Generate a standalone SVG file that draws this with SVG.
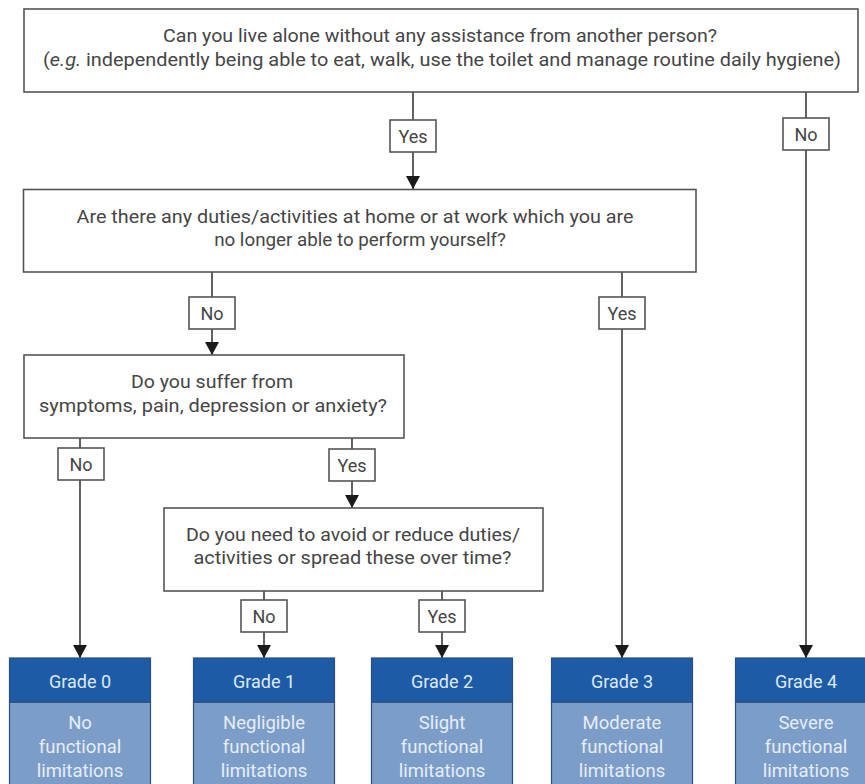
<svg xmlns="http://www.w3.org/2000/svg" width="865" height="784" viewBox="0 0 865 784">
<defs>
<marker id="arr" markerUnits="userSpaceOnUse" markerWidth="14" markerHeight="14" viewBox="0 0 13 14" refX="13" refY="7" orient="auto">
<path d="M0,0 L13,7 L0,14 Z" fill="#1a1a1a"/>
</marker>
<style>
.q{fill:#fff;stroke:#555;stroke-width:1.6}
.t{font-family:Roboto,"Liberation Sans",sans-serif;font-size:18.8px;fill:#454545;text-anchor:middle}
.l{font-family:Roboto,"Liberation Sans",sans-serif;font-size:18px;fill:#454545;text-anchor:middle}
.c{fill:none;stroke:#3a3a3a;stroke-width:1.6}
.lb{fill:#fff;stroke:#555;stroke-width:1.6}
.gh{fill:#1d5ba7;stroke:#2b4e7c;stroke-width:1.2}
.gb{fill:#7b9dc8;stroke:#2b4e7c;stroke-width:1.2}
.gt{font-family:Roboto,"Liberation Sans",sans-serif;font-size:18px;fill:#dfe9f6;text-anchor:middle}
.bt{font-family:Roboto,"Liberation Sans",sans-serif;font-size:18.5px;fill:#e6edf7;text-anchor:middle}
</style>
</defs>
<rect width="865" height="784" fill="#fff"/>

<g id="connectors">
<path class="c" d="M413,92 V189" marker-end="url(#arr)"/>
<path class="c" d="M806,92 V658" marker-end="url(#arr)"/>
<path class="c" d="M212,272 V355" marker-end="url(#arr)"/>
<path class="c" d="M622,272 V658" marker-end="url(#arr)"/>
<path class="c" d="M80,438 V658" marker-end="url(#arr)"/>
<path class="c" d="M352,438 V508" marker-end="url(#arr)"/>
<path class="c" d="M264,591 V658" marker-end="url(#arr)"/>
<path class="c" d="M442,591 V658" marker-end="url(#arr)"/>
<g id="lbl-q1-yes"><rect class="lb" x="390" y="120" width="46" height="32"/><text class="l" x="413" y="142.5">Yes</text></g>
<g id="lbl-q1-no"><rect class="lb" x="783" y="118" width="46" height="32"/><text class="l" x="806" y="140.5">No</text></g>
<g id="lbl-q2-no"><rect class="lb" x="189" y="297" width="46" height="32"/><text class="l" x="212" y="319.5">No</text></g>
<g id="lbl-q2-yes"><rect class="lb" x="599" y="297" width="46" height="32"/><text class="l" x="622" y="319.5">Yes</text></g>
<g id="lbl-q3-no"><rect class="lb" x="58" y="448" width="46" height="32"/><text class="l" x="81" y="470.5">No</text></g>
<g id="lbl-q3-yes"><rect class="lb" x="329" y="449" width="46" height="32"/><text class="l" x="352" y="471.5">Yes</text></g>
<g id="lbl-q4-no"><rect class="lb" x="241" y="600" width="46" height="32"/><text class="l" x="264" y="622.5">No</text></g>
<g id="lbl-q4-yes"><rect class="lb" x="419" y="600" width="46" height="32"/><text class="l" x="442" y="622.5">Yes</text></g>
</g>

<g id="q1">
<rect class="q" x="24" y="9" width="834" height="83"/>
<text class="t" x="440" y="42" textLength="554" lengthAdjust="spacingAndGlyphs">Can you live alone without any assistance from another person?</text>
<text class="t" x="442" y="65.5" textLength="798" lengthAdjust="spacingAndGlyphs">(<tspan font-style="italic">e.g.</tspan> independently being able to eat, walk, use the toilet and manage routine daily hygiene)</text>
</g>

<g id="q2">
<rect class="q" x="23.5" y="189.5" width="672.5" height="82.5"/>
<text class="t" x="355" y="222.5" textLength="557" lengthAdjust="spacingAndGlyphs">Are there any duties/activities at home or at work which you are</text>
<text class="t" x="360" y="246">no longer able to perform yourself?</text>
</g>

<g id="q3">
<rect class="q" x="24" y="355" width="380" height="83"/>
<text class="t" x="212" y="388" textLength="162" lengthAdjust="spacingAndGlyphs">Do you suffer from</text>
<text class="t" x="213" y="411.5" textLength="348" lengthAdjust="spacingAndGlyphs">symptoms, pain, depression or anxiety?</text>
</g>

<g id="q4">
<rect class="q" x="164" y="508" width="379" height="83"/>
<text class="t" x="353" y="541" textLength="334" lengthAdjust="spacingAndGlyphs">Do you need to avoid or reduce duties/</text>
<text class="t" x="352.5" y="564" textLength="318" lengthAdjust="spacingAndGlyphs">activities or spread these over time?</text>
</g>

<g id="grade0">
<rect class="gb" x="9.5" y="702" width="141" height="90"/>
<rect class="gh" x="9.5" y="658" width="141" height="44"/>
<text class="gt" x="80" y="688">Grade 0</text>
<text class="bt" x="80" y="729">No</text>
<text class="bt" x="80" y="753">functional</text>
<text class="bt" x="80" y="777">limitations</text>
</g>
<g id="grade1">
<rect class="gb" x="193.5" y="702" width="141" height="90"/>
<rect class="gh" x="193.5" y="658" width="141" height="44"/>
<text class="gt" x="264" y="688">Grade 1</text>
<text class="bt" x="264" y="729">Negligible</text>
<text class="bt" x="264" y="753">functional</text>
<text class="bt" x="264" y="777">limitations</text>
</g>
<g id="grade2">
<rect class="gb" x="371.5" y="702" width="141" height="90"/>
<rect class="gh" x="371.5" y="658" width="141" height="44"/>
<text class="gt" x="442" y="688">Grade 2</text>
<text class="bt" x="442" y="729">Slight</text>
<text class="bt" x="442" y="753">functional</text>
<text class="bt" x="442" y="777">limitations</text>
</g>
<g id="grade3">
<rect class="gb" x="551.5" y="702" width="141" height="90"/>
<rect class="gh" x="551.5" y="658" width="141" height="44"/>
<text class="gt" x="622" y="688">Grade 3</text>
<text class="bt" x="622" y="729">Moderate</text>
<text class="bt" x="622" y="753">functional</text>
<text class="bt" x="622" y="777">limitations</text>
</g>
<g id="grade4">
<rect class="gb" x="735.5" y="702" width="141" height="90"/>
<rect class="gh" x="735.5" y="658" width="141" height="44"/>
<text class="gt" x="806" y="688">Grade 4</text>
<text class="bt" x="806" y="729">Severe</text>
<text class="bt" x="806" y="753">functional</text>
<text class="bt" x="806" y="777">limitations</text>
</g>
</svg>
